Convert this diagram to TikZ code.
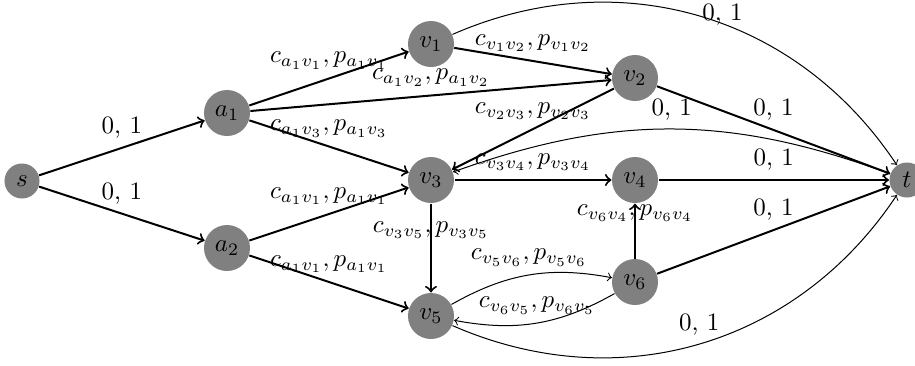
\documentclass[tikz,border=0pt]{standalone}
\begin{document}
\begin{tikzpicture}[x=0.01406cm,y=-0.01406cm,
  vert/.style={circle,fill=gray,minimum size=18.4pt,inner sep=0pt},
  term/.style={circle,fill=gray,minimum size=14pt,inner sep=0pt},
  main/.style={->,thick},
  thinarc/.style={->},
  lab/.style={above}]
\useasboundingbox (0,0) rectangle (915,365);
\node[term] (s) at (22,181) {$s$};
\node[vert] (a1) at (227,113) {$a_1$};
\node[vert] (a2) at (227,248) {$a_2$};
\node[vert] (v1) at (431,44) {$v_1$};
\node[vert] (v2) at (635,78) {$v_2$};
\node[vert] (v3) at (431,180) {$v_3$};
\node[vert] (v4) at (635,180) {$v_4$};
\node[vert] (v5) at (431,316) {$v_5$};
\node[vert] (v6) at (635,282) {$v_6$};
\node[term] (t) at (907,180) {$t$};

\draw[main] (s) -- node[lab]{0, 1} (a1);
\draw[main] (s) -- node[lab]{0, 1} (a2);
\draw[main] (a1) -- node[lab]{$c_{a_1v_1},p_{a_1v_1}$} (v1);
\draw[main] (a1) -- node[lab]{$c_{a_1v_2},p_{a_1v_2}$} (v2);
\draw[main] (a1) -- node[lab]{$c_{a_1v_3},p_{a_1v_3}$} (v3);
\draw[main] (a2) -- node[lab]{$c_{a_1v_1},p_{a_1v_1}$} (v3);
\draw[main] (a2) -- node[lab]{$c_{a_1v_1},p_{a_1v_1}$} (v5);
\draw[main] (v1) -- node[lab]{$c_{v_1v_2},p_{v_1v_2}$} (v2);
\draw[main] (v2) -- node[lab]{$c_{v_2v_3},p_{v_2v_3}$} (v3);
\draw[main] (v3) -- node[lab]{$c_{v_3v_4},p_{v_3v_4}$} (v4);
\draw[main] (v3) -- node[lab]{$c_{v_3v_5},p_{v_3v_5}$} (v5);
\draw[main] (v6) -- node[lab]{$c_{v_6v_4},p_{v_6v_4}$} (v4);
\draw[main] (v2) -- node[lab]{0, 1} (t);
\draw[main] (v4) -- node[lab]{0, 1} (t);
\draw[main] (v6) -- node[lab]{0, 1} (t);

\draw[thinarc] (v1) to[bend left=40] node[pos=0.55,yshift=3.5pt]{0, 1} (t);
\draw[thinarc] (t) to[bend right=20] node[lab]{0, 1} (v3);
\draw[thinarc] (v5) to[bend right=40] node[lab]{0, 1} (t);
\draw[thinarc] (v5) to[bend left=20] node[lab]{$c_{v_5v_6},p_{v_5v_6}$} (v6);
\draw[thinarc] (v6) to[bend left=20] node[lab]{$c_{v_6v_5},p_{v_6v_5}$} (v5);
\end{tikzpicture}
\end{document}
